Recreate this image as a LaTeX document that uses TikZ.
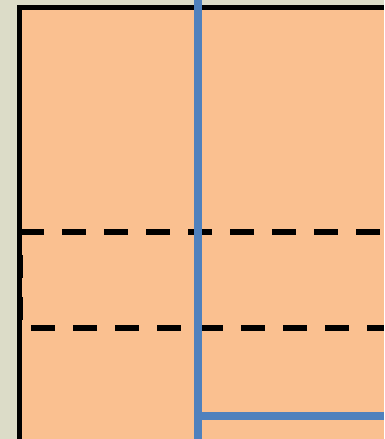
\documentclass[tikz,border=0pt]{standalone}
\usepackage{tikz}
\definecolor{frameBg}{HTML}{DCDCC8}
\definecolor{cellOrange}{HTML}{FAC090}
\definecolor{lineBlue}{HTML}{4F81BD}
\tikzset{
  edgeline/.style={draw=black, line width=5pt},
  dashline/.style={draw=black, line width=6pt, dash pattern=on 24pt off 18pt},
  blueline/.style={draw=lineBlue, line width=8pt}
}
\begin{document}
\begin{tikzpicture}[x=1pt, y=-1pt]
      % Background
      \fill[frameBg] (0,0) rectangle (384,439);
      \useasboundingbox (0,0) rectangle (384,439);

      % Panel
      \fill[cellOrange] (19.5,7.5) rectangle (384,439);
      \draw[edgeline] (19.5,439) -- (19.5,7.5) -- (384,7.5);
      \draw[black, line width=6pt, dash pattern=on 23pt off 19pt] (19.5,255) -- (19.5,320);

      % Dashed rows
      \draw[dashline] (20,232) -- (384,232);
      \draw[dashline] (31,328) -- (384,328);

      % Blue lines
      \draw[blueline] (198,0) -- (198,439);
      \draw[blueline] (198,416) -- (384,416);
\end{tikzpicture}
\end{document}
